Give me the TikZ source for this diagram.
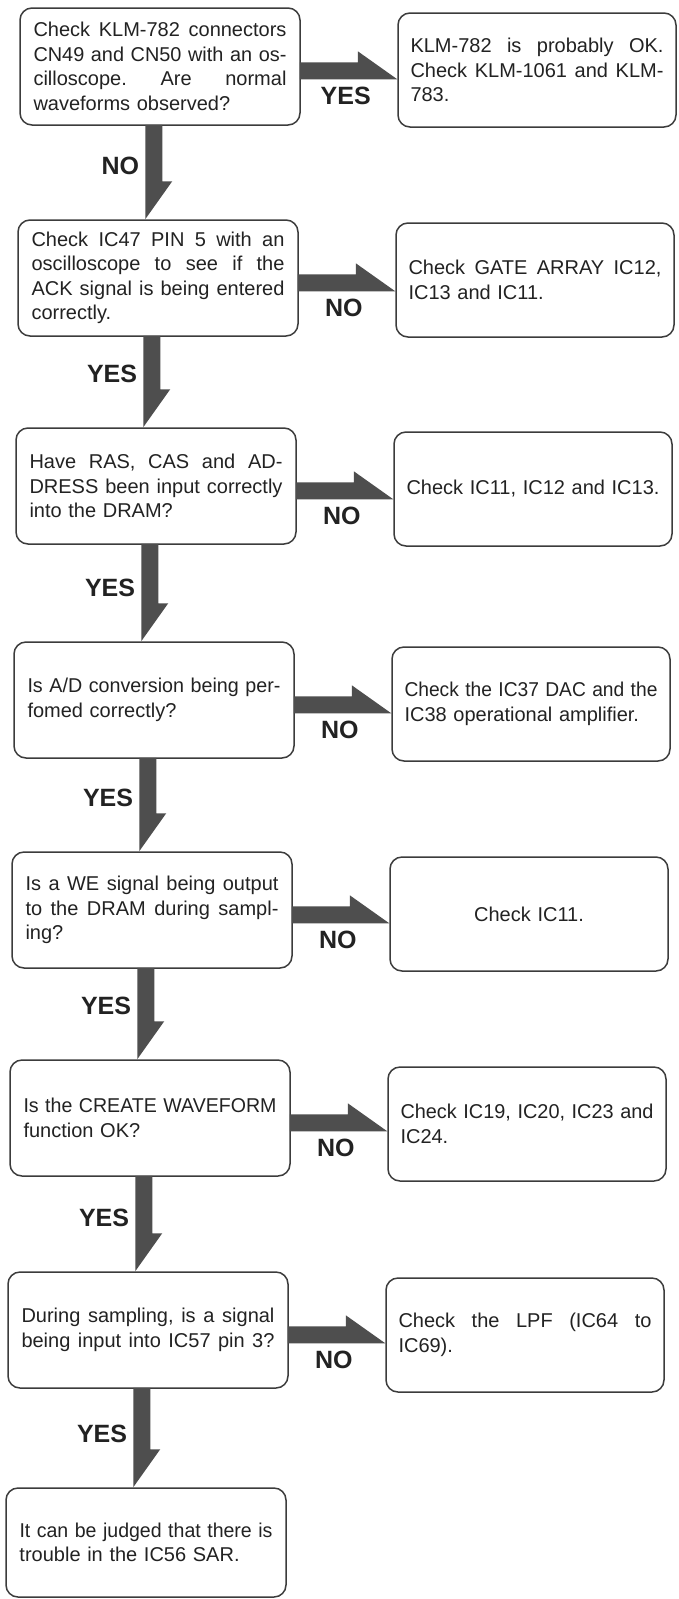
\documentclass[tikz,border=0pt]{standalone}
\usepackage{fontspec}
\usepackage{graphicx}
\setmainfont{Liberation Sans}
\newfontfamily\labfont{Liberation Sans}
\usetikzlibrary{calc}
\setlength{\parindent}{0pt}
\definecolor{boxline}{HTML}{3C3C3C}
\definecolor{arrowfill}{HTML}{4E4E4E}
\definecolor{txt}{HTML}{222222}
\newsavebox\jlbox
\newlength\jlw
\newcommand\jl[1]{\leavevmode\sbox\jlbox{#1}\setlength\jlw{\wd\jlbox}%
  \pgfmathsetmacro\jlf{min(1,253/\jlw)}%
  \pgfmathsetmacro\jlin{253/\jlf}%
  \scalebox{\jlf}[1]{\hbox to \jlin pt{\frenchspacing\spaceskip=\fontdimen2\font plus 1fil\relax #1}}}
\newcommand\harrow[2]{%
  \fill[arrowfill] let \p1=(#1.north east), \p2=(#2.west) in
  (\x1-1pt,\y1-55pt) -- (\x1+57pt,\y1-55pt) -- (\x1+57pt,\y1-44pt) -- (\x2,\y1-72pt) -- (\x1-1pt,\y1-72pt) -- cycle;}
\newcommand\varrow[2]{%
  \fill[arrowfill] let \p1=(#1.south west), \p2=(#2.north west) in
  (\x1+126pt,\y1+1pt) -- (\x1+143pt,\y1+1pt) -- (\x1+143pt,\y2+38pt) -- (\x1+153pt,\y2+38pt) -- (\x1+126pt,\y2) -- cycle;}
\begin{document}
\begin{tikzpicture}[x=1pt,y=-1pt,
  lbox/.style={draw=boxline, line width=1.5pt, rounded corners=12pt, minimum width=280pt,
    minimum height=116pt, text width=253pt, align=left, inner xsep=12pt, inner ysep=4pt,
    font=\fontsize{20}{24.5}\selectfont, text=txt},
  rbox/.style={lbox, minimum width=278pt, minimum height=114pt},
  lab/.style={font=\labfont\bfseries\fontsize{25}{25}\selectfont, text=txt, inner sep=0pt}]
\useasboundingbox (0,0) rectangle (678,1599);
\fill[white] (0,0) rectangle (678,1599);

% left column
\node[lbox, minimum height=117pt] (L1) at (160,66.5)
  {\jl{Check KLM-782 connectors}\\\jl{CN49 and CN50 with an os-}\\\jl{cilloscope. Are normal}\\waveforms observed?};
\node[lbox] (L2) at (158,278)
  {\jl{Check IC47 PIN 5 with an}\\\jl{oscilloscope to see if the}\\\jl{ACK signal is being entered}\\correctly.};
\node[lbox] (L3) at (156,486)
  {\jl{Have RAS, CAS and AD-}\\\jl{DRESS been input correctly}\\into the DRAM?};
\node[lbox] (L4) at (154,700)
  {\jl{Is A/D conversion being per-}\\fomed correctly?};
\node[lbox] (L5) at (152,910)
  {\jl{Is a WE signal being output}\\\jl{to the DRAM during sampl-}\\ing?};
\node[lbox] (L6) at (150,1118)
  {\jl{Is the CREATE WAVEFORM}\\function OK?};
\node[lbox] (L7) at (148,1330)
  {\jl{During sampling, is a signal}\\\jl{being input into IC57 pin 3?}};
\node[lbox, minimum height=109pt] (L8) at (146,1542.5)
  {\jl{It can be judged that there is}\\trouble in the IC56 SAR.};

% right column
\node[rbox] (R1) at (537,70)
  {\jl{KLM-782 is probably OK.}\\\jl{Check KLM-1061 and KLM-}\\783.};
\node[rbox] (R2) at (535,280)
  {\jl{Check GATE ARRAY IC12,}\\IC13 and IC11.};
\node[rbox] (R3) at (533,489)
  {\jl{Check IC11, IC12 and IC13.}};
\node[rbox] (R4) at (531,704)
  {\jl{Check the IC37 DAC and the}\\IC38 operational amplifier.};
\node[rbox, align=center] (R5) at (529,914)
  {Check IC11.};
\node[rbox] (R6) at (527,1124)
  {\jl{Check IC19, IC20, IC23 and}\\IC24.};
\node[rbox] (R7) at (525,1335)
  {\jl{Check the LPF (IC64 to}\\IC69).};

% horizontal connectors
\harrow{L1}{R1}
\harrow{L2}{R2}
\harrow{L3}{R3}
\harrow{L4}{R4}
\harrow{L5}{R5}
\harrow{L6}{R6}
\harrow{L7}{R7}

% vertical connectors
\varrow{L1}{L2}
\varrow{L2}{L3}
\varrow{L3}{L4}
\varrow{L4}{L5}
\varrow{L5}{L6}
\varrow{L6}{L7}
\varrow{L7}{L8}

% horizontal labels
\node[lab] (h1) at ($(L1.north east)+(45,89)$) {YES};
\node[lab] (h2) at ($(L2.north east)+(45,89)$) {NO};
\node[lab] (h3) at ($(L3.north east)+(45,89)$) {NO};
\node[lab] (h4) at ($(L4.north east)+(45,89)$) {NO};
\node[lab] (h5) at ($(L5.north east)+(45,89)$) {NO};
\node[lab] (h6) at ($(L6.north east)+(45,89)$) {NO};
\node[lab] (h7) at ($(L7.north east)+(45,89)$) {NO};

% vertical labels
\node[lab, anchor=east] (v1) at ($(L2.north west)+(122,-53)$) {NO};
\node[lab, anchor=east] (v2) at ($(L3.north west)+(122,-53)$) {YES};
\node[lab, anchor=east] (v3) at ($(L4.north west)+(122,-53)$) {YES};
\node[lab, anchor=east] (v4) at ($(L5.north west)+(122,-53)$) {YES};
\node[lab, anchor=east] (v5) at ($(L6.north west)+(122,-53)$) {YES};
\node[lab, anchor=east] (v6) at ($(L7.north west)+(122,-53)$) {YES};
\node[lab, anchor=east] (v7) at ($(L8.north west)+(122,-53)$) {YES};
\end{tikzpicture}
\end{document}
